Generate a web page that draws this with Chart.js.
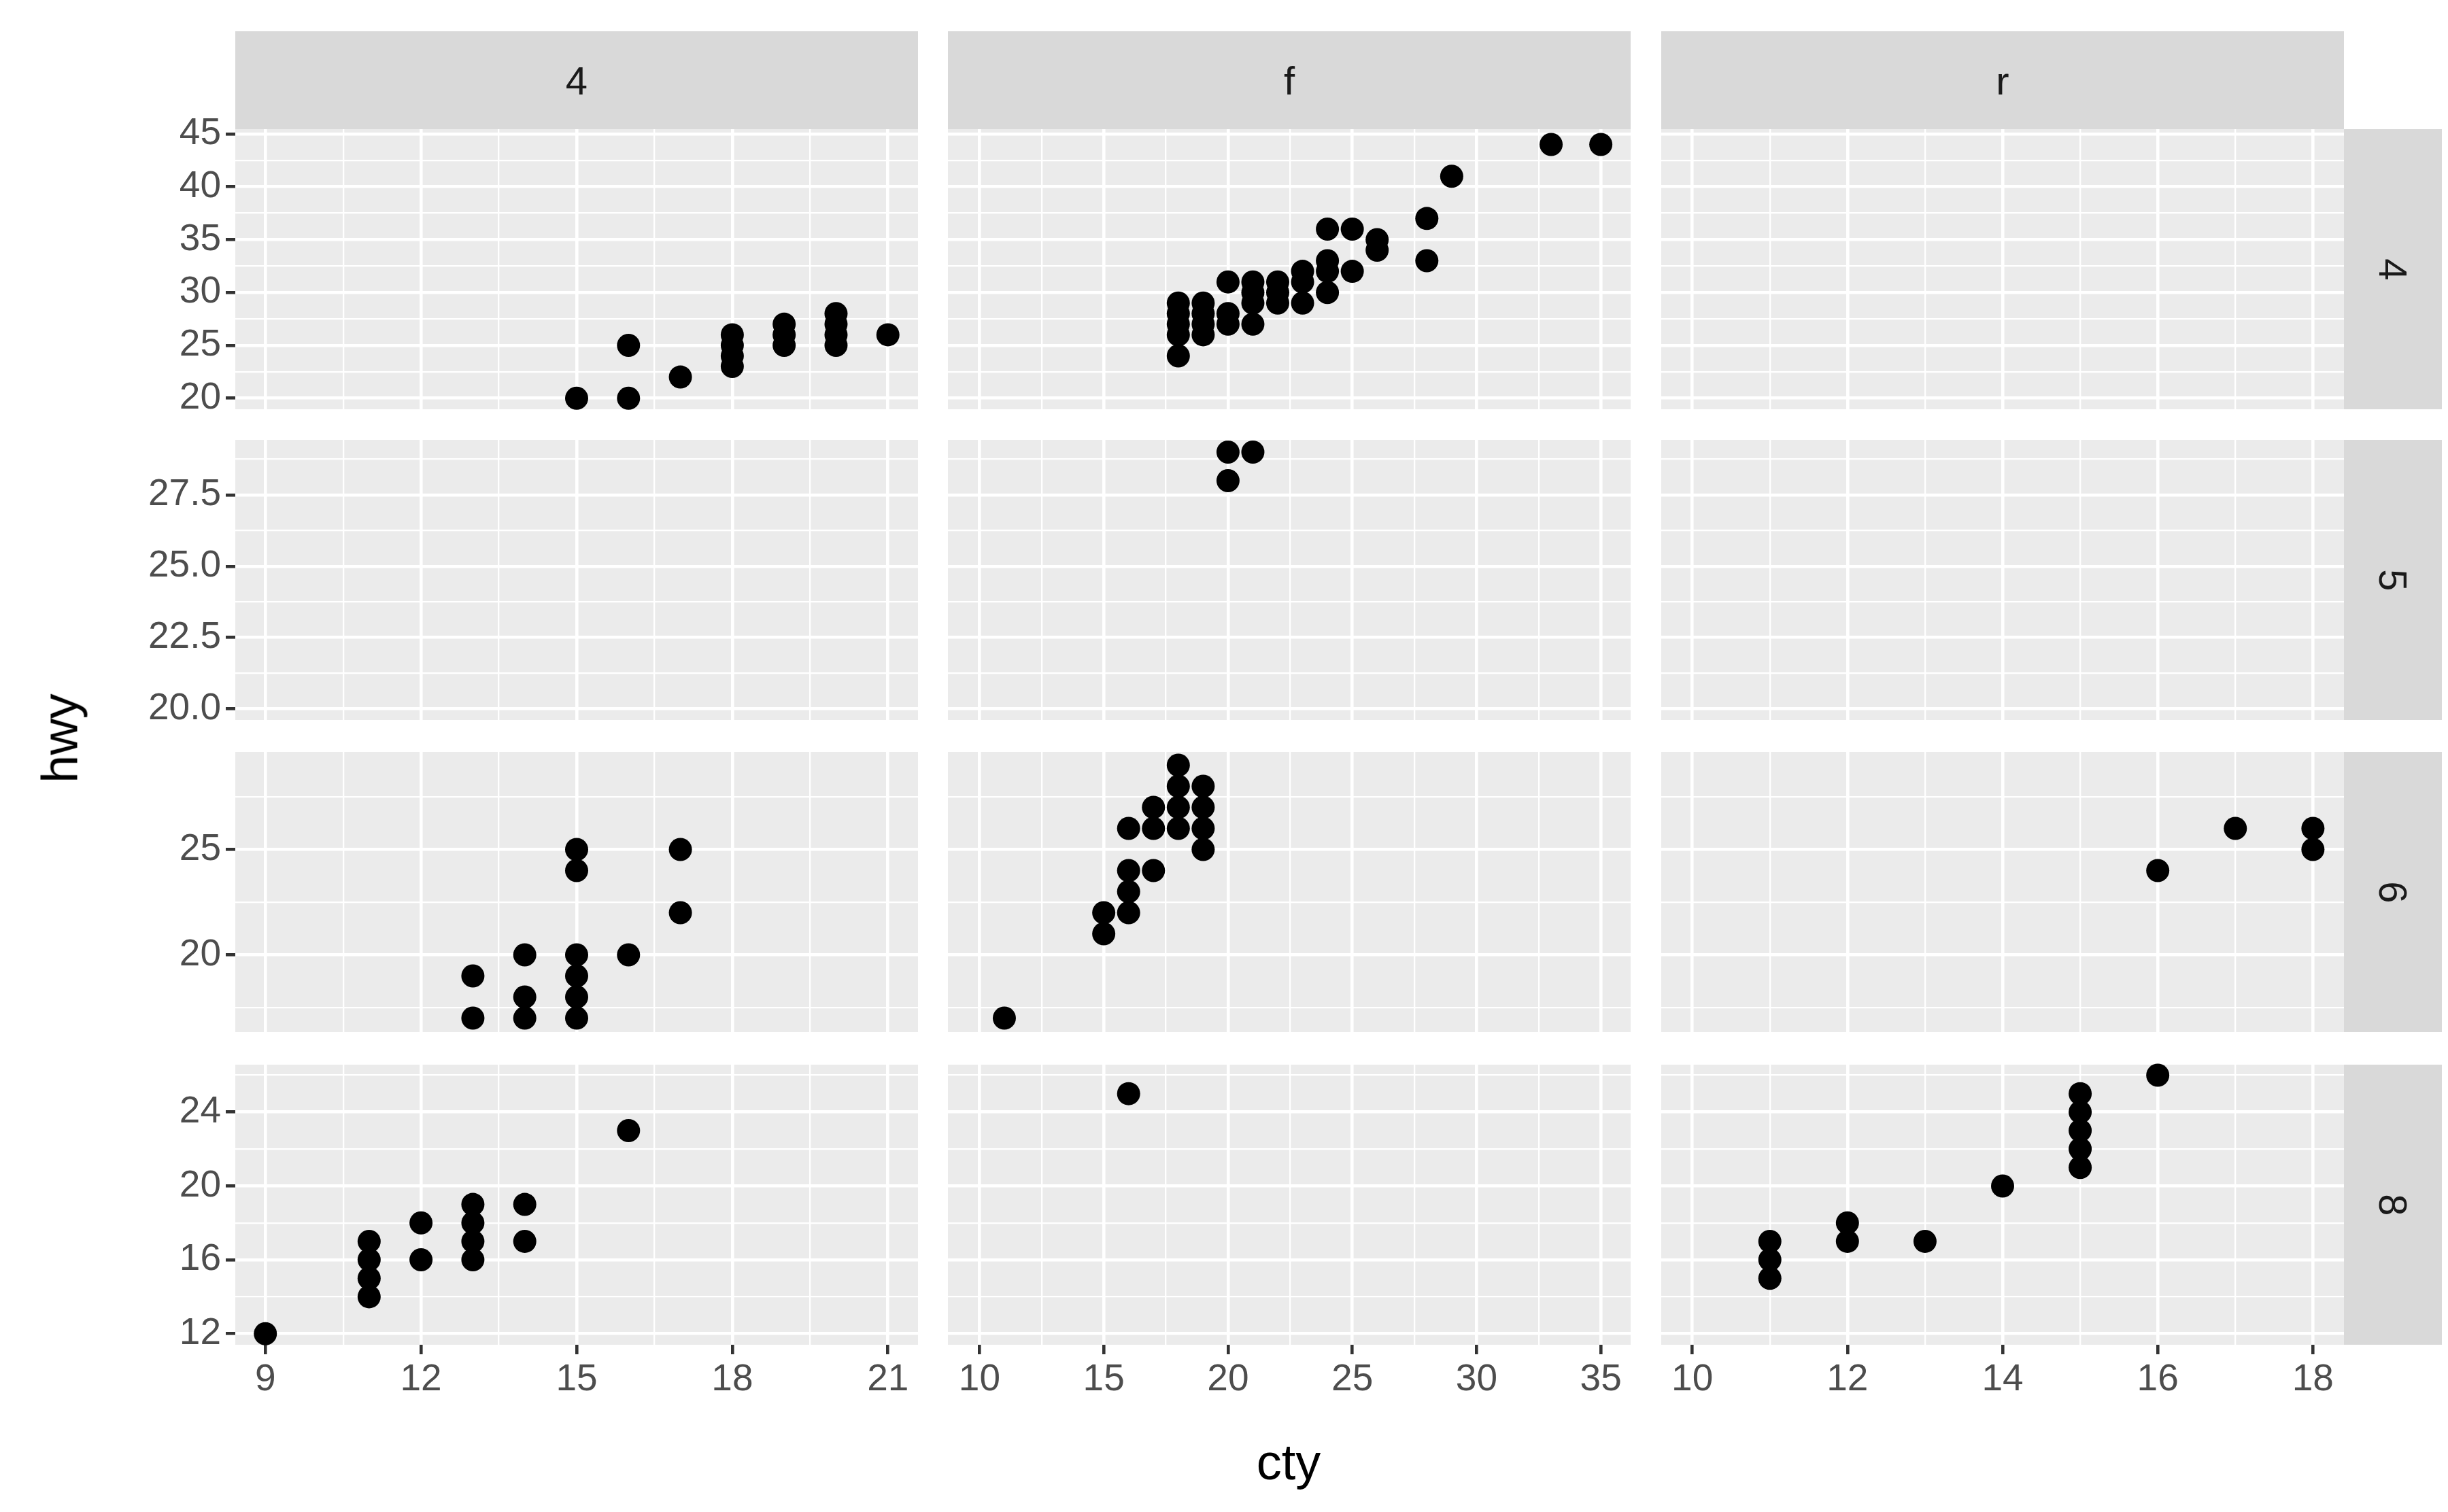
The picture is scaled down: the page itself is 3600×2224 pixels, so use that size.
<!DOCTYPE html>
<html><head><meta charset="utf-8">
<script src="https://cdn.jsdelivr.net/npm/chart.js@4.4.1/dist/chart.umd.min.js"></script>
<style>
body{margin:0;background:#fff;width:3600px;height:2224px;position:relative;overflow:hidden;font-family:"Liberation Sans",Arial,sans-serif}
.strip{position:absolute;background:#d9d9d9;color:#1a1a1a;display:flex;align-items:center;justify-content:center;font-size:58px}
canvas{position:absolute}
.t{position:absolute;color:#000;font-size:74px}
</style></head><body>
<script>
const cols = ["4","f","r"];
const rows = ["4","5","6","8"];
// panel data [row][col] as [cty,hwy]
const d_4_4 = [[15,20],[16,20],[16,25],[17,22],[18,23],[18,24],[18,25],[18,26],[19,25],[19,26],[19,27],[20,25],[20,26],[20,27],[20,28],[21,26]];
const d_4_f = [[18,24],[18,26],[18,27],[18,28],[18,29],[19,26],[19,27],[19,28],[19,29],[20,27],[20,28],[20,31],[21,27],[21,29],[21,30],[21,31],[22,29],[22,30],[22,31],[23,29],[23,31],[23,32],[24,30],[24,32],[24,33],[24,36],[25,32],[25,36],[26,34],[26,35],[28,33],[28,37],[29,41],[33,44],[35,44]];
const d_4_r = [];
const d_5_4 = [];
const d_5_f = [[20,28],[20,29],[21,29]];
const d_5_r = [];
const d_6_4 = [[13,17],[13,19],[14,17],[14,18],[14,20],[15,17],[15,18],[15,19],[15,20],[15,24],[15,25],[16,20],[17,22],[17,25]];
const d_6_f = [[11,17],[15,21],[15,22],[16,22],[16,23],[16,24],[16,26],[17,24],[17,26],[17,27],[18,26],[18,27],[18,28],[18,29],[19,25],[19,26],[19,27],[19,28]];
const d_6_r = [[16,24],[17,26],[18,25],[18,26]];
const d_8_4 = [[9,12],[11,14],[11,15],[11,16],[11,17],[12,16],[12,18],[13,16],[13,17],[13,18],[13,19],[14,17],[14,19],[16,23]];
const d_8_f = [[16,25]];
const d_8_r = [[11,15],[11,16],[11,17],[12,17],[12,18],[13,17],[14,20],[15,21],[15,22],[15,23],[15,24],[15,25],[16,26]];
const panelData = [[d_4_4,d_4_f,d_4_r],[d_5_4,d_5_f,d_5_r],[d_6_4,d_6_f,d_6_r],[d_8_4,d_8_f,d_8_r]];
const xRange = [[8.42,21.58],[8.73,36.2],[9.6,18.4]];
const xMajor = [[9,12,15,18,21],[10,15,20,25,30,35],[10,12,14,16,18]];
const xMinor = [[10.5,13.5,16.5,19.5],[12.5,17.5,22.5,27.5,32.5],[11,13,15,17]];
const xLabels = [["9","12","15","18","21"],["10","15","20","25","30","35"],["10","12","14","16","18"]];
const yRange = [[18.95,45.45],[19.61,29.43],[16.34,29.63],[11.4,26.57]];
const yMajor = [[20,25,30,35,40,45],[20,22.5,25,27.5],[20,25],[12,16,20,24]];
const yMinor = [[22.5,27.5,32.5,37.5,42.5],[21.25,23.75,26.25,28.75],[17.5,22.5,27.5],[14,18,22,26]];
const yLabels = [["20","25","30","35","40","45"],["20.0","22.5","25.0","27.5"],["20","25"],["12","16","20","24"]];

const S = 3600/1552;
const colX = [149,601,1053], PW = 433;
const rowY = [82,279,477,675], PH = 177.5;
const AXW = 140, AXH = 60, M = 20;
function px(v){return Math.round(v*S);}

function strip(txt,l,t,w,h,rot){
  const e=document.createElement('div');e.className='strip';
  e.style.left=px(l)+'px';e.style.top=px(t)+'px';e.style.width=px(w)+'px';e.style.height=px(h)+'px';
  e.innerHTML=rot?'<span style="display:inline-block;transform:rotate(90deg)">'+txt+'</span>':txt;
  document.body.appendChild(e);
}
cols.forEach((c,i)=>strip(c,colX[i],20,PW,62,false));
rows.forEach((r,i)=>strip(r,1486,rowY[i],62,PH,true));

function mkTicks(maj,min){
  const all=maj.map(v=>({value:v,major:true})).concat(min.map(v=>({value:v,major:false})));
  return all.sort((a,b)=>a.value-b.value);
}
const font={family:"Liberation Sans, Arial, sans-serif",size:55};
for(let r=0;r<4;r++)for(let c=0;c<3;c++){
  const left=c===0, bottom=r===3;
  const m=px(M);
  const cv=document.createElement('canvas');
  const w=px(PW)+(left?px(AXW):0)+2*m, h=px(PH)+(bottom?px(AXH):0)+2*m;
  cv.width=w;cv.height=h;
  cv.style.left=(px(colX[c])-(left?px(AXW):0)-m)+'px';cv.style.top=(px(rowY[r])-m)+'px';
  document.body.appendChild(cv);
  const xt=mkTicks(xMajor[c],xMinor[c]), yt=mkTicks(yMajor[r],yMinor[r]);
  const isMaj=(arr,i)=>arr[i]&&arr[i].major;
  new Chart(cv,{type:'scatter',
    data:{datasets:[{data:panelData[r][c].map(p=>({x:p[0],y:p[1]})),backgroundColor:'#000',borderColor:'#000',pointRadius:17,pointHoverRadius:17,borderWidth:0,clip:false}]},
    options:{responsive:false,animation:false,devicePixelRatio:1,
      layout:{padding:m,autoPadding:false},
      plugins:{legend:{display:false},tooltip:{enabled:false}},
      scales:{
        x:{type:'linear',min:xRange[c][0],max:xRange[c][1],
          afterBuildTicks:s=>{s.ticks=xt.map(t=>({value:t.value}));},
          afterFit:s=>{s.height=bottom?px(AXH):0;},
          border:{display:false},
          grid:{color:'#ffffff',lineWidth:ctx=>isMaj(xt,ctx.index)?4.6:2.3,drawTicks:bottom,tickLength:px(6),tickColor:ctx=>isMaj(xt,ctx.index)?'#333333':'rgba(0,0,0,0)',tickWidth:4.6},
          ticks:{display:bottom,autoSkip:false,maxRotation:0,padding:px(2),color:'#4d4d4d',font:font,
            callback:(v,i)=>{const k=xMajor[c].indexOf(xt[i].value);return k>=0?xLabels[c][k]:'';}}},
        y:{type:'linear',min:yRange[r][0],max:yRange[r][1],
          afterBuildTicks:s=>{s.ticks=yt.map(t=>({value:t.value}));},
          afterFit:s=>{s.width=left?px(AXW):0;},
          border:{display:false},
          grid:{color:'#ffffff',lineWidth:ctx=>isMaj(yt,ctx.index)?4.6:2.3,drawTicks:left,tickLength:px(6),tickColor:ctx=>isMaj(yt,ctx.index)?'#333333':'rgba(0,0,0,0)',tickWidth:4.6},
          ticks:{display:left,autoSkip:false,padding:px(3),color:'#4d4d4d',font:font,
            callback:(v,i)=>{const k=yMajor[r].indexOf(yt[i].value);return k>=0?yLabels[r][k]:'';}}}
      }},
    plugins:[{id:'bg',beforeDraw:ch=>{const a=ch.chartArea,g=ch.ctx;g.save();g.fillStyle='#ebebeb';g.fillRect(a.left,a.top,a.right-a.left,a.bottom-a.top);g.restore();}}]
  });
}
const t1=document.createElement('div');t1.className='t';t1.textContent='cty';
t1.style.left=px(817)+'px';t1.style.top=px(927)+'px';t1.style.transform='translate(-50%,-50%)';document.body.appendChild(t1);
const t2=document.createElement('div');t2.className='t';t2.textContent='hwy';
t2.style.left=px(38)+'px';t2.style.top=px(468)+'px';t2.style.transform='translate(-50%,-50%) rotate(-90deg)';document.body.appendChild(t2);
</script>
</body></html>
